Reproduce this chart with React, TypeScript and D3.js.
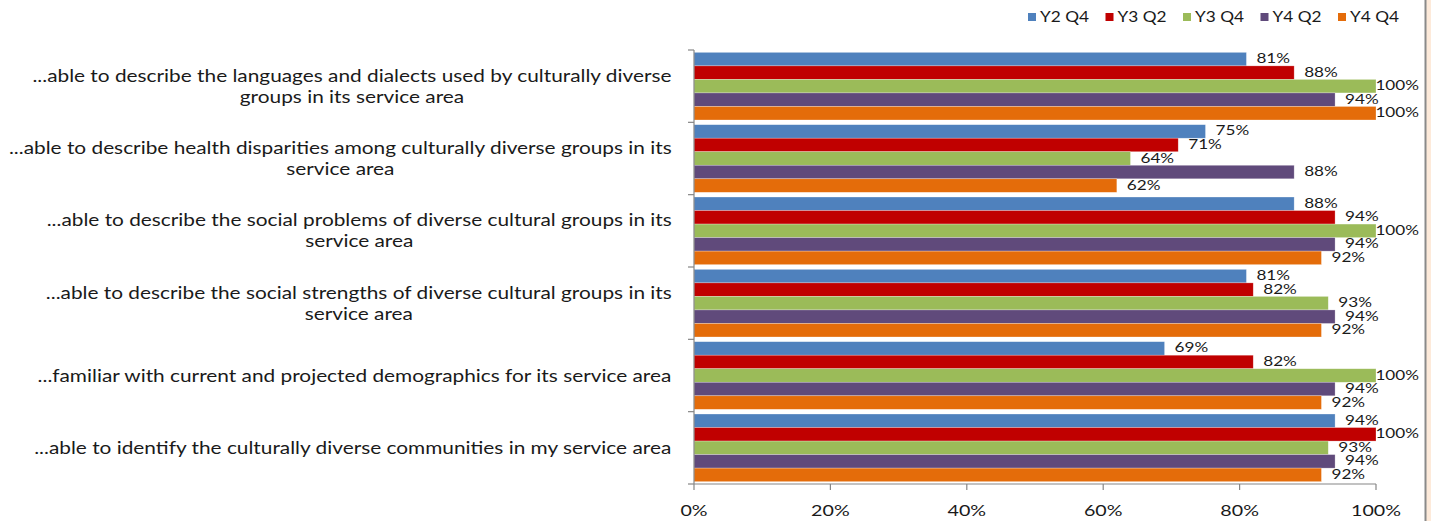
import React from "react";
import * as d3 from "d3";

const categories = [
  "...able to describe the languages and dialects used by culturally diverse\ngroups in its service area",
  "...able to describe health disparities among culturally diverse groups in its\nservice area",
  "...able to describe the social problems of diverse cultural groups in its\nservice area",
  "...able to describe the social strengths of diverse cultural groups in its\nservice area",
  "...familiar with current and projected demographics for its service area",
  "...able to identify the culturally diverse communities in my service area",
];

const seriesNames = ["Y2 Q4", "Y3 Q2", "Y3 Q4", "Y4 Q2", "Y4 Q4"];
const y2q4 = [81, 75, 88, 81, 69, 94];
const y3q2 = [88, 71, 94, 82, 82, 100];
const y3q4 = [100, 64, 100, 93, 100, 93];
const y4q2 = [94, 88, 94, 94, 94, 94];
const y4q4 = [100, 62, 92, 92, 92, 92];
const seriesValues = [y2q4, y3q2, y3q4, y4q2, y4q4];
const seriesColors = ["#4F81BD", "#C00000", "#9BBB59", "#604A7B", "#E46C0A"];
const xTicks = [0, 20, 40, 60, 80, 100];

const W = 1431;
const H = 521;
const FONT = "Lato, Carlito, Calibri, sans-serif";
const SX = 1.27; // horizontal stretch of the source picture's text

let ctx: CanvasRenderingContext2D | null = null;
function measure(txt: string, size: number): number {
  if (!ctx && typeof document !== "undefined") {
    ctx = document.createElement("canvas").getContext("2d");
  }
  if (!ctx) return txt.length * size * 0.5;
  ctx.font = `${size}px Lato`;
  return ctx.measureText(txt).width;
}

function SText(props: {
  x: number;
  y: number;
  size: number;
  anchor?: "start" | "middle" | "end";
  sx?: number;
  children: string;
}) {
  const { x, y, size, anchor = "start", sx = SX, children } = props;
  return (
    <text
      transform={`translate(${x},${y}) scale(${sx},1)`}
      textAnchor={anchor}
      fontFamily={FONT}
      fontSize={size}
      fill="#1a1a1a"
    >
      {children}
    </text>
  );
}

export default function App() {
  const left = 694;
  const right = 1376;
  const top = 50;
  const bottom = 484;

  const x = d3.scaleLinear().domain([0, 100]).range([left, right]);
  const y0 = d3
    .scaleBand<number>()
    .domain(d3.range(categories.length))
    .range([top, bottom])
    .paddingInner(0.065)
    .paddingOuter(0.0325);
  const y1 = d3
    .scaleBand<number>()
    .domain(d3.range(seriesNames.length))
    .range([0, y0.bandwidth()]);

  const step = (bottom - top) / categories.length;
  const boundaries = d3.range(categories.length + 1).map((i) => top + i * step);
  const labelRight = 672;
  const labelLimit = 1419;
  const axisColor = "#868686";
  const catSize = 16.4;
  const barLabelSize = 13.5;

  return (
    <div style={{ position: "absolute", left: 0, top: 0 }}>
      <svg width={W} height={H} style={{ display: "block", background: "#fff" }}>
        <rect x={1426} y={0} width={5} height={H} fill="#FDEADA" />
        <line x1={1425.5} x2={1425.5} y1={0} y2={H} stroke="#8a8a8a" strokeWidth={2} />

        {/* legend */}
        {seriesNames.map((s, i) => {
          const lx = 1028 + i * 77.5;
          return (
            <g key={s}>
              <rect x={lx} y={13} width={8} height={8} fill={seriesColors[i]} />
              <SText x={lx + 12} y={22} size={15} sx={1.15}>
                {s}
              </SText>
            </g>
          );
        })}

        {/* bars */}
        {categories.map((c, ci) => (
          <g key={ci} transform={`translate(0,${y0(ci)})`}>
            {seriesValues.map((vals, si) => (
              <rect
                key={si}
                x={x(0)}
                y={y1(si)}
                width={x(vals[ci]) - x(0)}
                height={y1.bandwidth()}
                fill={seriesColors[si]}
                stroke="#ffffff"
                strokeOpacity={0.45}
                strokeWidth={0.6}
              />
            ))}
            {seriesValues.map((vals, si) => {
              const txt = `${vals[ci]}%`;
              const tw = measure(txt, barLabelSize) * SX;
              const lx = Math.min(x(vals[ci]) + 10, labelLimit - tw);
              return (
                <SText
                  key={"l" + si}
                  x={lx}
                  y={(y1(si) as number) + y1.bandwidth() / 2 + 4}
                  size={barLabelSize}
                >
                  {txt}
                </SText>
              );
            })}
          </g>
        ))}

        {/* y axis */}
        <line x1={left} x2={left} y1={top} y2={bottom} stroke={axisColor} strokeWidth={1.2} />
        {boundaries.map((b, i) => (
          <line key={i} x1={left - 6} x2={left} y1={b} y2={b} stroke={axisColor} strokeWidth={1.2} />
        ))}

        {/* x axis */}
        <line x1={left} x2={right} y1={bottom} y2={bottom} stroke={axisColor} strokeWidth={1.2} />
        {xTicks.map((t) => (
          <g key={t}>
            <line x1={x(t)} x2={x(t)} y1={bottom} y2={bottom + 6} stroke={axisColor} strokeWidth={1.2} />
            <SText x={x(t)} y={516} size={15.5} anchor="middle">
              {`${t}%`}
            </SText>
          </g>
        ))}

        {/* category labels */}
        {categories.map((c, ci) => {
          const lines = c.split("\n");
          const cy = top + ci * step + step / 2;
          const lh = 21;
          const blockW = Math.max(...lines.map((ln) => measure(ln, catSize) * SX));
          const cx = labelRight - blockW / 2;
          const startY = cy - ((lines.length - 1) * lh) / 2 + 6;
          return (
            <g key={ci}>
              {lines.map((ln, li) => (
                <SText key={li} x={cx} y={startY + li * lh} size={catSize} anchor="middle">
                  {ln}
                </SText>
              ))}
            </g>
          );
        })}
      </svg>
    </div>
  );
}
